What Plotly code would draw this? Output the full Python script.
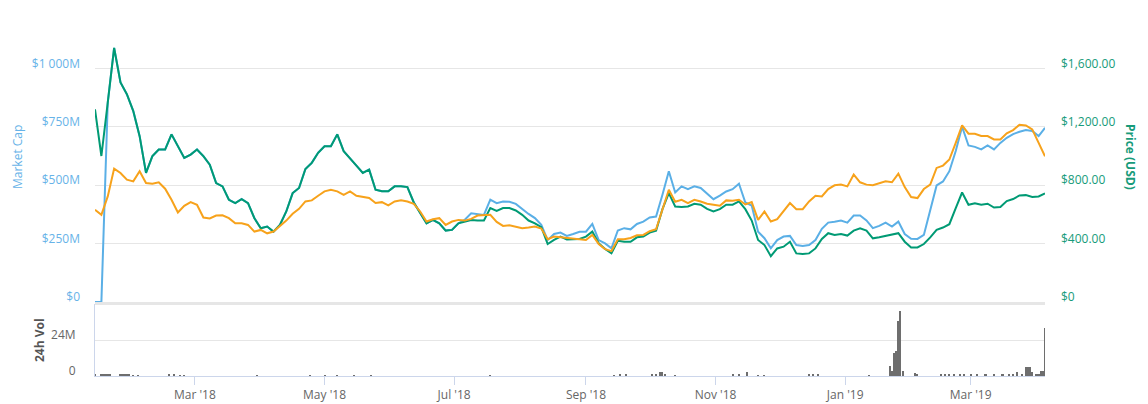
import plotly.graph_objects as go
import pandas as pd

# ---------------- data ----------------
dates = pd.date_range("2018-01-13", periods=150, freq="3D")

price_usd = [
    1320, 1000, 1366, 1740, 1504, 1423, 1308, 1136, 884, 999,
    1044, 1044, 1148, 1067, 987, 1010, 1044, 999, 941, 815,
    792, 700, 677, 705, 677, 574, 505, 517, 482, 528,
    620, 746, 781, 911, 953, 1022, 1067, 1067, 1148, 1033,
    980, 934, 884, 907, 769, 758, 758, 792, 792, 787,
    682, 608, 539, 562, 539, 489, 494, 539, 551, 562,
    558, 558, 643, 624, 643, 643, 627, 597, 558, 539,
    512, 397, 425, 448, 429, 429, 432, 448, 482, 402,
    363, 333, 420, 413, 413, 443, 448, 475, 489, 636,
    746, 654, 650, 654, 673, 666, 638, 620, 636, 666,
    666, 689, 636, 558, 425, 390, 314, 367, 379, 413,
    333, 328, 333, 367, 432, 471, 459, 466, 455, 489,
    505, 489, 436, 443, 452, 459, 471, 413, 374, 374,
    397, 443, 494, 510, 533, 643, 750, 666, 677, 666,
    673, 647, 650, 691, 705, 730, 732, 719, 723, 744,
]

market_cap_m = [
    0, 0, 854, 1088, 940, 889, 818, 710, 553, 624,
    653, 653, 718, 667, 617, 631, 653, 624, 588, 509,
    495, 438, 423, 441, 423, 359, 316, 323, 301, 330,
    388, 466, 488, 569, 596, 639, 667, 667, 718, 646,
    613, 584, 553, 567, 481, 474, 474, 495, 495, 492,
    426, 380, 337, 351, 337, 306, 309, 337, 352, 380,
    377, 373, 438, 423, 430, 429, 420, 397, 377, 359,
    330, 265, 291, 297, 283, 291, 301, 301, 334, 265,
    251, 230, 306, 316, 311, 334, 344, 362, 366, 459,
    560, 469, 495, 483, 495, 488, 463, 440, 455, 473,
    483, 506, 426, 413, 301, 273, 230, 265, 280, 283,
    244, 240, 244, 265, 313, 340, 344, 349, 340, 370,
    370, 349, 316, 326, 340, 323, 344, 291, 271, 270,
    287, 395, 499, 516, 560, 646, 750, 670, 664, 653,
    670, 653, 681, 703, 719, 729, 736, 732, 710, 746,
]

price_btc = [
    0.0789, 0.0746, 0.0904, 0.1142, 0.1105, 0.1048, 0.1033, 0.1119, 0.1019, 0.1013,
    0.1025, 0.0970, 0.0875, 0.0766, 0.0824, 0.0855, 0.0832, 0.0723, 0.0715, 0.0740,
    0.0743, 0.0718, 0.0674, 0.0674, 0.0660, 0.0603, 0.0617, 0.0588, 0.0603, 0.0646,
    0.0697, 0.0755, 0.0798, 0.0861, 0.0870, 0.0910, 0.0947, 0.0961, 0.0947, 0.0918,
    0.0947, 0.0910, 0.0898, 0.0890, 0.0847, 0.0855, 0.0827, 0.0861, 0.0870, 0.0861,
    0.0841, 0.0775, 0.0689, 0.0709, 0.0718, 0.0660, 0.0689, 0.0703, 0.0697, 0.0712,
    0.0740, 0.0746, 0.0746, 0.0686, 0.0651, 0.0657, 0.0643, 0.0631, 0.0637, 0.0646,
    0.0629, 0.0537, 0.0560, 0.0554, 0.0545, 0.0537, 0.0531, 0.0531, 0.0574, 0.0497,
    0.0453, 0.0436, 0.0537, 0.0537, 0.0548, 0.0571, 0.0574, 0.0606, 0.0623, 0.0795,
    0.0961, 0.0858, 0.0875, 0.0847, 0.0875, 0.0861, 0.0841, 0.0832, 0.0824, 0.0870,
    0.0867, 0.0875, 0.0835, 0.0855, 0.0703, 0.0775, 0.0689, 0.0709, 0.0775, 0.0847,
    0.0795, 0.0795, 0.0861, 0.0910, 0.0904, 0.0967, 0.0999, 0.1005, 0.0990, 0.1091,
    0.1025, 0.1005, 0.0999, 0.1013, 0.1033, 0.1025, 0.1099, 0.0984, 0.0898, 0.0890,
    0.0967, 0.1005, 0.1148, 0.1168, 0.1220, 0.1363, 0.1512, 0.1441, 0.1441, 0.1421,
    0.1421, 0.1392, 0.1392, 0.1444, 0.1472, 0.1518, 0.1512, 0.1478, 0.1363, 0.1248,
]

vol_dates = [
    "2018-01-13", "2018-01-16", "2018-01-17", "2018-01-18", "2018-01-19", "2018-01-20",
    "2018-01-25", "2018-01-26", "2018-01-27", "2018-01-28", "2018-01-29", "2018-01-31",
    "2018-02-02", "2018-02-17", "2018-02-19", "2018-02-22", "2018-02-24", "2018-03-30",
    "2018-04-24", "2018-05-01", "2018-05-07", "2018-05-15", "2018-05-23", "2018-07-18",
    "2018-09-14", "2018-09-17", "2018-09-20", "2018-10-02", "2018-10-04", "2018-10-06",
    "2018-10-07", "2018-10-08", "2018-10-13", "2018-11-09", "2018-11-12", "2018-11-16",
    "2018-11-21", "2018-11-24", "2018-12-15", "2018-12-17", "2018-12-19", "2019-01-12",
    "2019-01-22", "2019-01-23", "2019-01-24", "2019-01-25", "2019-01-26", "2019-01-27",
    "2019-01-28", "2019-02-03", "2019-02-04", "2019-02-15", "2019-02-17", "2019-02-19",
    "2019-02-21", "2019-02-24", "2019-02-26", "2019-03-01", "2019-03-04", "2019-03-08",
    "2019-03-12", "2019-03-16", "2019-03-19", "2019-03-21", "2019-03-23", "2019-03-25",
    "2019-03-27", "2019-03-28", "2019-03-29", "2019-03-30", "2019-04-01", "2019-04-02",
    "2019-04-03", "2019-04-04", "2019-04-05",
]
vol_m = [
    1.2, 1.0, 1.3, 0.8, 1.1, 0.7,
    1.4, 1.5, 1.4, 1.2, 1.0, 0.6,
    0.5, 0.9, 0.8, 0.5, 0.6, 0.5,
    0.6, 0.5, 0.4, 0.4, 0.4, 0.6,
    0.6, 0.8, 0.7, 1.0, 1.2, 2.4,
    3.0, 1.5, 0.6, 0.7, 1.0, 2.6,
    0.6, 0.5, 0.9, 1.1, 0.7, 0.6,
    6.7, 3.6, 15.5, 16.9, 36.9, 43.3,
    3.6, 1.8, 1.2, 1.2, 1.4, 1.2,
    1.0, 1.3, 1.2, 1.1, 1.0, 1.1,
    1.0, 1.1, 1.3, 1.4, 2.7, 1.6,
    6.2, 5.8, 5.8, 2.9, 1.2, 1.4,
    3.1, 3.6, 31.8,
]

left_ticks = [0, 250, 500, 750, 1000, 1250]
left_text = ["$0", "$250M", "$500M", "$750M", "$1 000M", ""]
right_ticks = [0, 400, 800, 1200, 1600, 2000]
right_text = ["$0", "$400.00", "$800.00", "$1,200.00", "$1,600.00", ""]
vol_ticks = [0, 24, 48]
vol_text = ["0", "24M", ""]

# ---------------- style ----------------
BLUE = "#5aafe6"
GREEN = "#009a74"
ORANGE = "#f7a21b"
GRID = "#e6e6e6"
AXIS = "#ccd6eb"
FONT = "Open Sans"

fig = go.Figure()
fig.add_trace(go.Scatter(x=dates, y=market_cap_m, mode="lines", yaxis="y",
                         line=dict(color=BLUE, width=2), name="Market Cap"))
fig.add_trace(go.Scatter(x=dates, y=price_usd, mode="lines", yaxis="y2",
                         line=dict(color=GREEN, width=2), name="Price (USD)"))
fig.add_trace(go.Scatter(x=dates, y=price_btc, mode="lines", yaxis="y3",
                         line=dict(color=ORANGE, width=2), name="Price (BTC)"))
fig.add_trace(go.Bar(x=pd.to_datetime(vol_dates), y=vol_m, xaxis="x2", yaxis="y4",
                     marker=dict(color="#6e6e6e", line=dict(width=0)),
                     width=86400000 * 0.95, name="24h Vol"))

x_range = [dates[0], dates[-1]]
main_bottom = 74 / 366

fig.update_layout(
    width=1148, height=404,
    margin=dict(l=95, r=103, t=10, b=28, autoexpand=False),
    paper_bgcolor="white", plot_bgcolor="white",
    showlegend=False,
    font=dict(family=FONT, size=12, color="#666666"),
    bargap=0,
    xaxis=dict(domain=[0, 1], anchor="y", range=x_range, showticklabels=False,
               showgrid=False, zeroline=False, showline=True, linecolor=GRID,
               linewidth=3, ticks="", automargin=False),
    yaxis=dict(domain=[main_bottom, 1], range=[0, 1250], tickvals=left_ticks,
               ticktext=left_text, gridcolor=GRID, gridwidth=1, zeroline=False,
               showline=False, tickfont=dict(color="#67b3e8", size=12),
               ticklabelshift=-5, ticklabelstandoff=14, automargin=False),
    yaxis2=dict(overlaying="y", side="right", anchor="x", range=[0, 2000],
                tickvals=right_ticks, ticktext=right_text, showgrid=False,
                zeroline=False, showline=False,
                tickfont=dict(color="#179b7a", size=12),
                ticklabelshift=-5, ticklabelstandoff=15, automargin=False),
    yaxis3=dict(overlaying="y", range=[0, 0.25], visible=False),
    xaxis2=dict(domain=[0, 1], anchor="y4", range=x_range, tickformat="%b '%y",
                tick0="2018-03-01", dtick="M2", ticks="outside", ticklen=8,
                tickcolor=AXIS, showline=True, linecolor=AXIS, linewidth=1,
                showgrid=False, zeroline=False, automargin=False,
                tickfont=dict(color="#666666", size=12)),
    yaxis4=dict(domain=[0, 72 / 366], anchor="x2", range=[0, 48],
                tickvals=vol_ticks, ticktext=vol_text, gridcolor=GRID,
                zeroline=False, showline=True, linecolor=AXIS,
                tickfont=dict(color="#666666", size=12), automargin=False,
                ticklabelshift=-5, ticklabelstandoff=16),
    annotations=[
        dict(text="Market Cap", textangle=-90, x=17, y=157,
             font=dict(color="#67b3e8", size=12)),
        dict(text="<b>Price (USD)</b>", textangle=90, x=1131, y=157,
             font=dict(color="#179b7a", size=12)),
        dict(text="<b>24h Vol</b>", textangle=-90, x=39, y=340,
             font=dict(color="#555555", size=12)),
    ],
)

# place titles at pixel positions (converted to paper coordinates)
plot_w = 1148 - 95 - 103
plot_h = 404 - 10 - 28
for a in fig.layout.annotations:
    a.x = (a.x - 95) / plot_w
    a.y = (376 - a.y) / plot_h
    a.xref = "paper"
    a.yref = "paper"
    a.xanchor = "center"
    a.yanchor = "middle"
    a.showarrow = False

fig.write_html("out.html")
